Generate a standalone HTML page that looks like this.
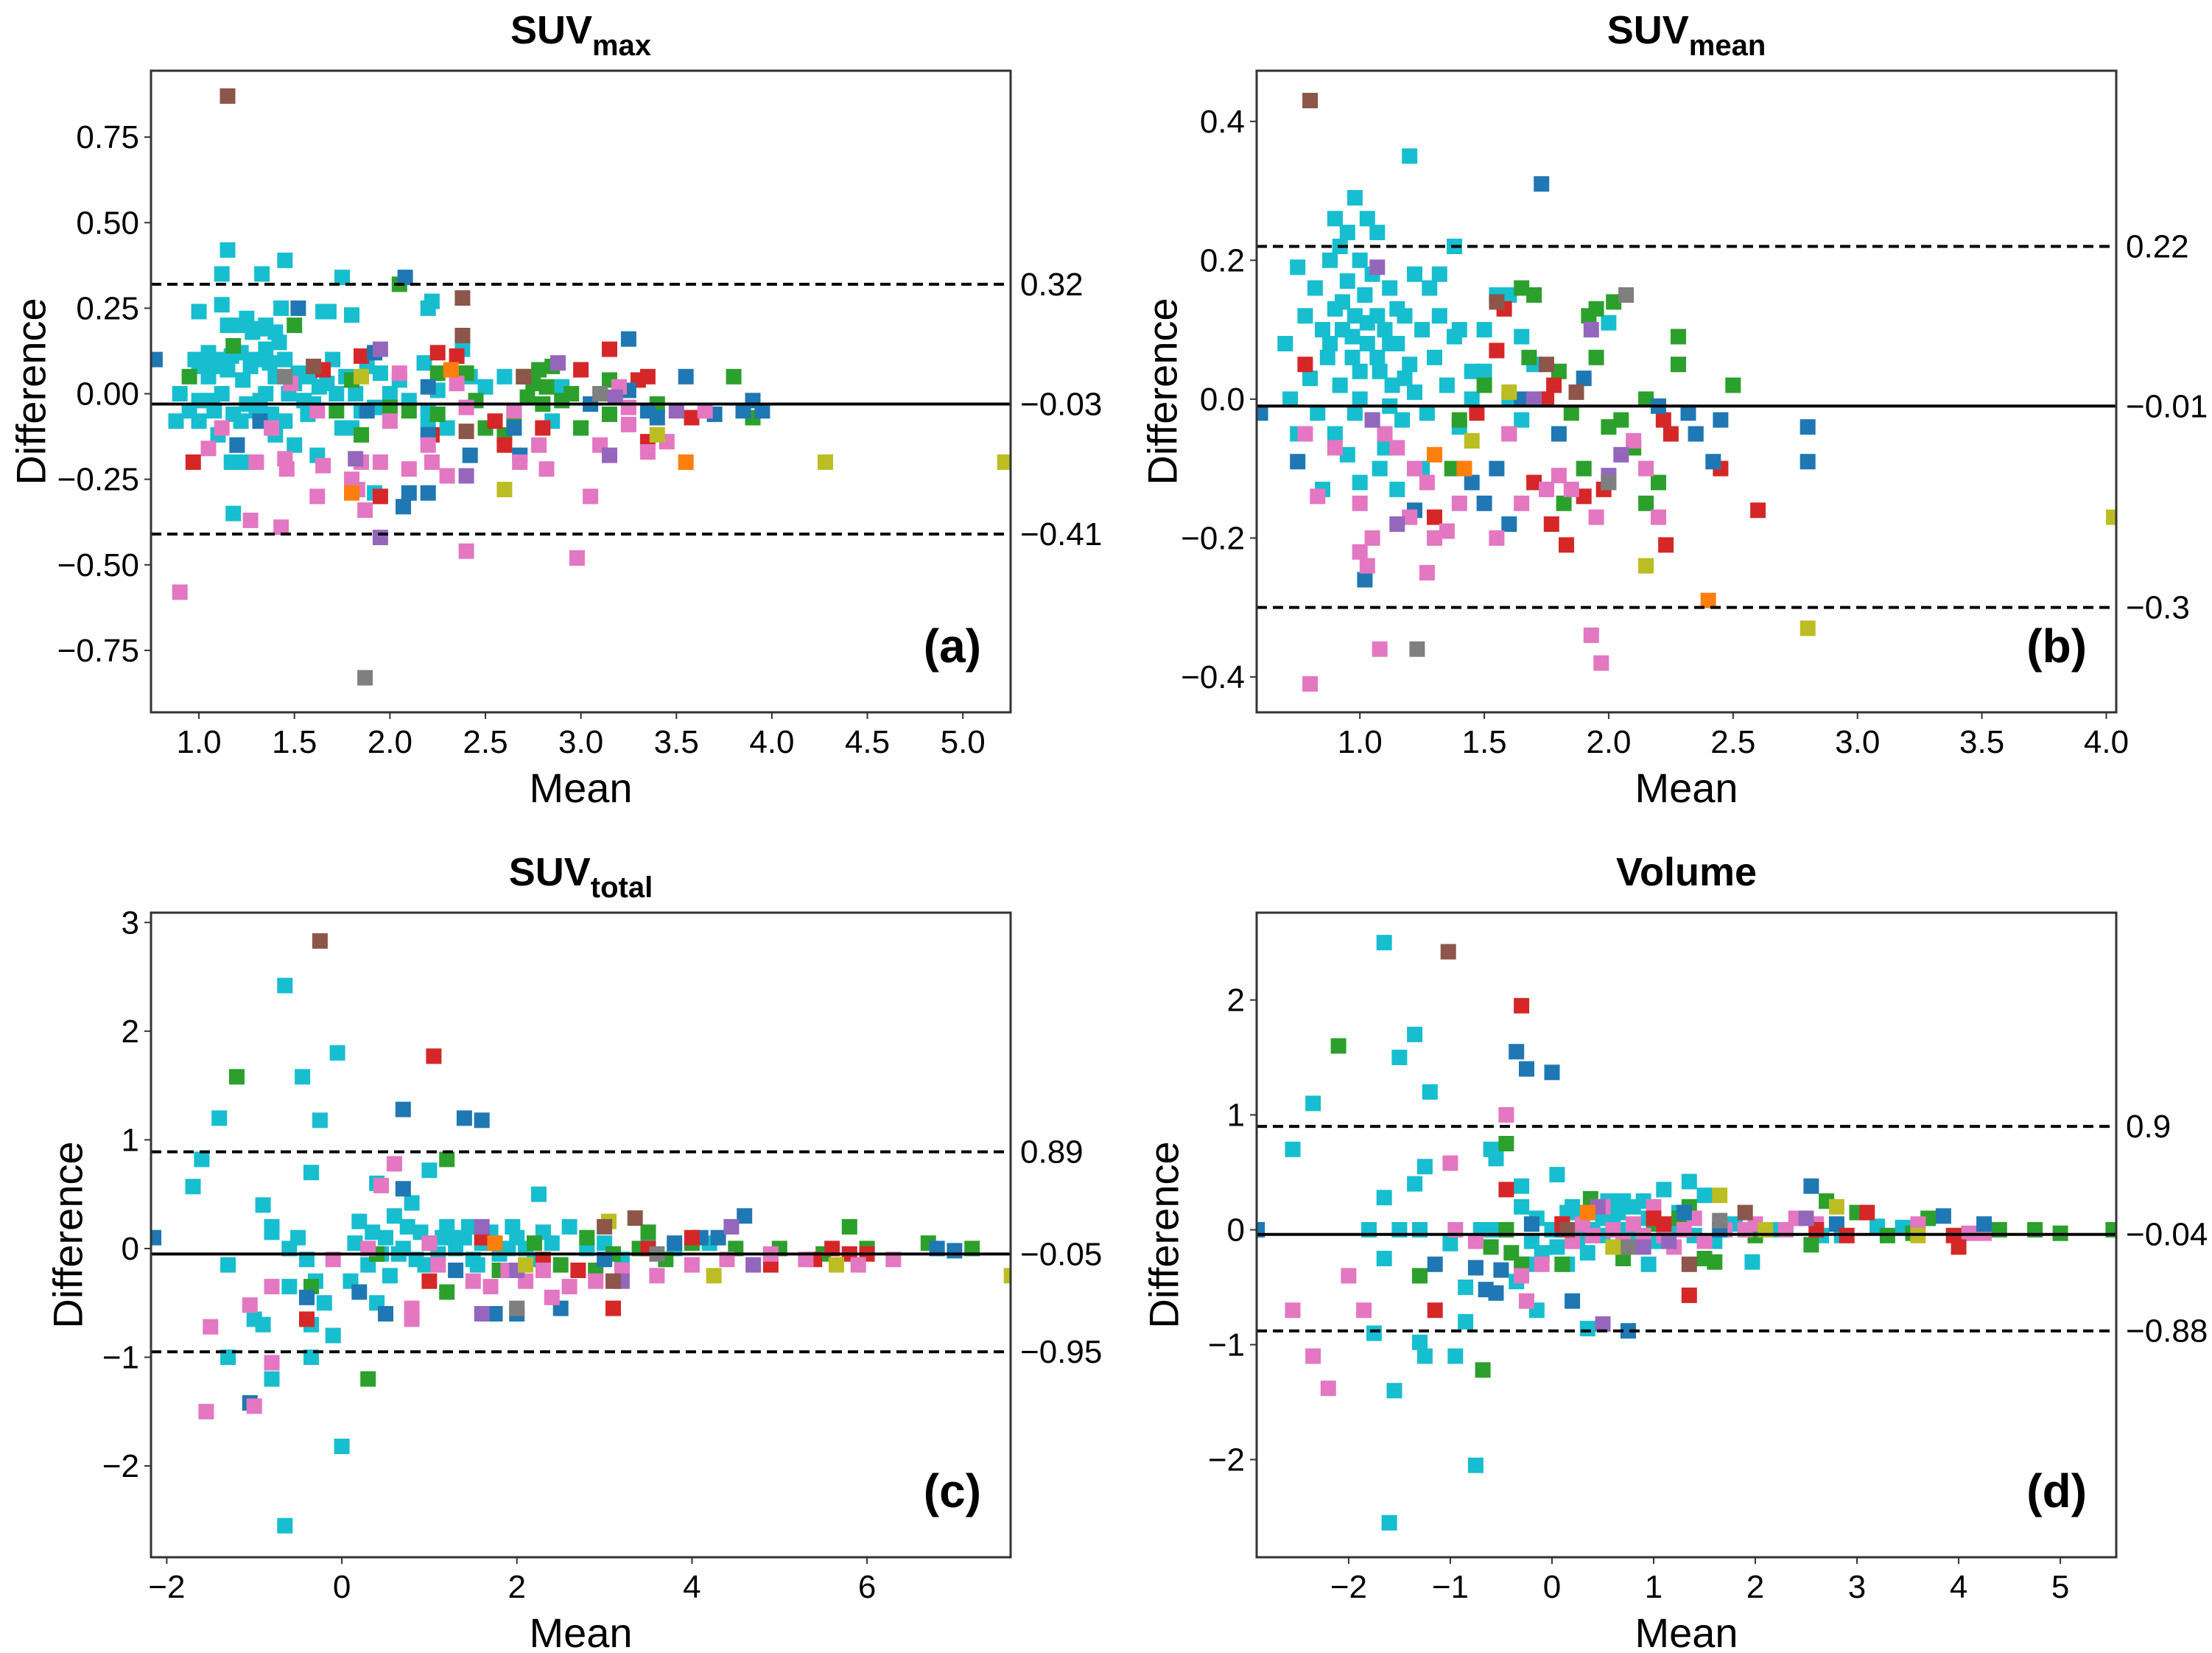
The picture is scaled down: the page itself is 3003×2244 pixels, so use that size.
<!DOCTYPE html>
<html><head><meta charset="utf-8"><title>Bland-Altman plots</title>
<style>
html,body{margin:0;padding:0;background:#fff;}
svg{display:block;font-family:"Liberation Sans",Arial,sans-serif;}
</style></head>
<body>
<svg id="fig" width="3003" height="2244" viewBox="0 0 3003 2244" xmlns="http://www.w3.org/2000/svg"></svg>
<script>
// ---------- data ----------
const colorMap = {b:'#1f77b4',o:'#ff7f0e',g:'#2ca02c',r:'#d62728',p:'#9467bd',n:'#8c564b',k:'#e377c2',y:'#7f7f7f',l:'#bcbd22',c:'#17becf'};

const ticksA = [1.0,1.5,2.0,2.5,3.0,3.5,4.0,4.5,5.0];
const yTicksA = [0.75,0.5,0.25,0,-0.25,-0.5,-0.75];
const yTickLabelsA = ['0.75','0.50','0.25','0.00','\u22120.25','\u22120.50','\u22120.75'];
const linesA = [0.32,-0.03,-0.41];
const lineLabelsA = ['0.32','\u22120.03','\u22120.41'];
const ptsA = {
 c:[[1.15,0.42],[1.45,0.39],[1.12,0.35],[1.33,0.35],[1.75,0.34],[1.65,0.24],[1.8,0.23],[1.0,0.24],[2.2,0.25],[2.22,0.27],[1.18,-0.35],[0.88,-0.08],[1.92,-0.29],
   [0.9,0.0],[0.95,-0.05],[1.0,0.08],[1.0,-0.02],[1.02,0.1],[1.05,0.12],[1.05,0.05],[1.08,-0.05],[1.1,0.1],[1.12,0.0],[1.12,0.26],[1.15,0.07],[1.18,-0.06],[1.2,0.2],[1.22,0.12],[1.23,0.04],[1.25,0.22],[1.25,-0.03],[1.28,0.18],[1.3,0.1],[1.3,-0.05],[1.33,0.19],[1.35,0.0],[1.35,0.13],[1.38,-0.06],[1.4,0.05],[1.42,0.15],[1.43,0.25],[1.45,0.1],[1.45,-0.08],[1.47,0.0],[1.5,0.03],[1.55,-0.02],[1.58,0.05],[1.6,-0.03],[1.63,0.02],[1.68,0.24],[1.7,0.1],[1.72,0.0],[1.75,-0.1],[1.82,0.0],[1.85,-0.05],[1.88,0.08],[1.92,-0.04],[1.95,0.06],[2.0,0.0],[2.05,0.04],[2.1,-0.02],[2.18,0.09],[2.2,-0.08],[2.25,0.01],[2.3,-0.1],[2.38,0.13],[2.42,0.05],[2.5,0.02],[2.6,0.05],[2.85,-0.08],[2.9,0.02],[1.2,-0.15],[1.17,-0.2],[1.25,-0.2],[1.5,-0.15],[1.62,-0.18],[2.2,-0.05],[1.0,-0.08],[1.1,-0.12],[1.4,-0.12],[1.8,-0.1],
   [1.07,0.08],[1.17,0.11],[1.27,0.08],[1.37,0.09],[1.4,0.18],[1.52,0.06],[1.32,-0.02],[1.22,-0.08],[1.07,-0.02],[1.57,-0.06],[1.67,0.03],[1.77,0.05],[1.15,0.2],[1.35,0.2],[0.98,0.1]],
 g:[[2.05,0.32],[0.95,0.05],[1.18,0.14],[1.5,0.2],[1.8,0.04],[1.85,-0.12],[2.0,-0.04],[2.1,-0.05],[2.25,0.06],[2.25,-0.06],[2.4,0.06],[2.45,-0.02],[2.5,-0.1],[2.6,-0.12],[2.7,0.05],[2.72,-0.01],[2.75,0.03],[2.78,0.07],[2.8,-0.03],[2.82,0.02],[2.85,0.08],[2.9,-0.02],[2.95,0.0],[3.0,-0.1],[3.15,-0.06],[3.15,0.04],[3.4,-0.03],[1.72,-0.05],[2.65,-0.06],[3.8,0.05],[3.9,-0.07]],
 r:[[3.15,0.13],[3.35,0.05],[3.58,-0.07],[0.97,-0.2],[1.65,0.07],[1.85,0.11],[2.25,0.12],[2.35,0.11],[2.55,-0.08],[2.6,-0.15],[2.8,-0.1],[3.0,0.07],[3.3,0.04],[3.35,-0.14],[1.95,-0.3],[2.22,-0.12]],
 b:[[2.08,0.34],[1.52,0.25],[3.25,0.16],[3.55,0.05],[3.9,-0.02],[3.95,-0.05],[0.77,0.1],[2.07,-0.33],[2.1,-0.29],[2.2,-0.29],[1.2,-0.15],[1.32,-0.08],[1.88,-0.05],[1.92,0.12],[2.2,0.02],[2.2,-0.12],[2.42,-0.18],[2.65,-0.1],[2.68,-0.18],[3.05,-0.03],[3.25,0.01],[3.35,-0.05],[3.4,-0.07],[3.7,-0.06],[3.85,-0.05]],
 k:[[0.9,-0.58],[3.05,-0.3],[2.98,-0.48],[2.4,-0.46],[1.43,-0.39],[1.27,-0.37],[1.05,-0.16],[1.87,-0.34],[1.62,-0.3],[1.12,-0.1],[1.3,-0.2],[1.38,-0.1],[1.45,-0.19],[1.46,-0.22],[1.48,0.03],[1.62,-0.05],[1.65,-0.21],[1.8,-0.25],[1.83,-0.28],[1.85,-0.2],[1.95,-0.2],[2.0,-0.08],[2.05,0.06],[2.1,-0.22],[2.2,-0.15],[2.22,-0.2],[2.3,-0.24],[2.35,0.03],[2.4,-0.04],[2.65,-0.05],[2.68,-0.2],[2.78,-0.15],[2.82,-0.22],[3.1,-0.15],[3.2,0.02],[3.25,-0.04],[3.25,-0.09],[3.35,-0.17],[3.45,-0.14],[3.65,-0.05]],
 p:[[1.95,-0.42],[1.82,-0.19],[1.95,0.13],[2.4,-0.24],[2.88,0.09],[3.15,-0.18],[3.18,-0.01],[3.5,-0.05]],
 n:[[1.15,0.87],[2.38,0.28],[2.38,0.17],[1.6,0.08],[2.4,-0.11],[2.7,0.05]],
 y:[[1.87,-0.83],[1.45,0.05],[3.1,0.0]],
 l:[[4.28,-0.2],[5.22,-0.2],[2.6,-0.28],[1.85,0.05],[3.4,-0.12]],
 o:[[3.55,-0.2],[2.32,0.07],[1.8,-0.29]]
};

const ticksB = [1.0,1.5,2.0,2.5,3.0,3.5,4.0];
const yTicksB = [0.4,0.2,0,-0.2,-0.4];
const yTickLabelsB = ['0.4','0.2','0.0','\u22120.2','\u22120.4'];
const linesB = [0.22,-0.01,-0.3];
const lineLabelsB = ['0.22','\u22120.01','\u22120.3'];
const ptsB = {
 c:[[1.2,0.35],[0.98,0.29],[0.9,0.26],[1.03,0.26],[1.07,0.24],[1.38,0.22],[0.75,0.19],[0.92,0.22],[1.32,0.18],
   [0.7,0.08],[0.72,0.0],[0.75,-0.05],[0.78,0.12],[0.8,0.03],[0.82,0.16],[0.83,-0.02],[0.85,0.1],[0.87,0.06],[0.88,0.2],[0.9,0.13],[0.9,-0.05],[0.92,0.02],[0.93,0.1],[0.95,0.17],[0.95,-0.08],[0.97,0.06],[0.98,0.12],[1.0,0.2],[1.0,0.0],[1.02,0.15],[1.03,0.08],[1.05,0.18],[1.05,-0.03],[1.07,0.12],[1.08,0.04],[1.1,0.1],[1.1,-0.07],[1.12,0.16],[1.13,0.02],[1.15,0.08],[1.17,-0.03],[1.18,0.12],[1.2,0.05],[1.22,0.18],[1.25,0.1],[1.27,-0.02],[1.3,0.06],[1.32,0.12],[1.35,0.02],[1.38,0.09],[1.4,-0.04],[1.45,0.04],[1.5,0.1],[1.55,0.15],[1.6,0.15],[1.6,0.0],[1.65,-0.03],[1.7,0.05],[1.0,-0.12],[1.08,-0.1],[0.95,0.24],[1.15,-0.13],[1.25,-0.1],[1.4,0.1],[1.28,0.16],[1.65,0.09],[2.0,0.11],[0.85,-0.13],
   [0.93,0.14],[0.97,0.09],[1.0,0.04],[1.03,0.11],[1.07,0.06],[1.12,0.08],[1.15,0.13],[1.18,0.03],[0.88,0.08],[0.98,-0.02],[1.12,-0.01],[1.22,0.01],[1.45,0.0],[1.5,0.04]],
 g:[[1.65,0.16],[1.95,0.13],[2.02,0.14],[1.92,0.12],[2.28,0.09],[2.28,0.05],[2.5,0.02],[2.35,-0.05],[2.15,-0.15],[1.37,-0.1],[1.4,-0.03],[1.5,0.02],[1.6,-0.05],[1.68,0.06],[1.75,0.0],[1.8,0.04],[1.85,-0.02],[1.9,-0.1],[1.95,0.06],[2.0,-0.04],[2.05,-0.03],[2.1,-0.07],[2.15,0.0],[2.2,-0.12],[1.82,-0.15],[1.7,0.15]],
 r:[[2.6,-0.16],[2.23,-0.21],[1.83,-0.21],[1.77,-0.18],[1.55,0.07],[1.58,0.13],[1.47,-0.02],[1.7,-0.12],[1.75,0.0],[1.78,0.02],[1.9,-0.14],[1.98,-0.13],[2.22,-0.03],[2.45,-0.1],[2.25,-0.05],[1.3,-0.17],[0.78,0.05]],
 b:[[1.73,0.31],[1.02,-0.26],[2.8,-0.04],[2.8,-0.09],[0.55,0.07],[0.6,-0.02],[0.75,-0.09],[1.45,-0.12],[1.5,-0.15],[1.55,-0.1],[1.6,-0.18],[1.65,0.0],[1.8,-0.05],[1.9,0.03],[2.2,-0.01],[2.32,-0.02],[2.35,-0.05],[2.45,-0.03],[2.42,-0.09],[1.22,-0.16]],
 k:[[0.8,-0.41],[1.97,-0.38],[1.93,-0.34],[1.08,-0.36],[1.0,-0.22],[1.03,-0.24],[0.83,-0.14],[1.27,-0.25],[0.78,-0.05],[0.9,-0.07],[1.0,-0.15],[1.1,-0.05],[1.15,-0.07],[1.2,-0.17],[1.22,-0.1],[1.27,-0.12],[1.3,-0.2],[1.35,-0.19],[1.4,-0.15],[1.55,-0.2],[1.65,-0.15],[1.75,-0.13],[1.8,-0.11],[1.85,-0.13],[1.95,-0.17],[2.0,-0.12],[2.1,-0.06],[2.15,-0.1],[1.6,-0.05],[1.05,-0.2],[2.2,-0.17]],
 p:[[1.05,-0.03],[1.7,0.0],[1.93,0.1],[2.05,-0.08],[2.0,-0.11],[1.15,-0.18],[1.07,0.19]],
 o:[[2.4,-0.29],[1.3,-0.08],[1.42,-0.1]],
 l:[[4.03,-0.17],[2.8,-0.33],[2.15,-0.24],[1.6,0.01],[1.45,-0.06]],
 n:[[0.8,0.43],[1.55,0.14],[1.75,0.05],[1.87,0.01]],
 y:[[1.23,-0.36],[2.07,0.15],[2.0,-0.12]]
};

const ticksC = [-2,0,2,4,6];
const yTicksC = [3,2,1,0,-1,-2];
const yTickLabelsC = ['3','2','1','0','\u22121','\u22122'];
const linesC = [0.89,-0.05,-0.95];
const lineLabelsC = ['0.89','\u22120.05','\u22120.95'];
const ptsC = {
 c:[[-0.65,2.42],[-0.05,1.8],[-0.45,1.58],[-1.4,1.2],[-0.25,1.18],[-1.6,0.82],[1.0,0.72],[-1.7,0.57],[0.4,0.6],[-0.65,-2.55],[0,-1.82],[-1.3,-1.0],[-0.35,-1.0],[-0.8,-1.2],
   [-0.9,0.4],[-1.0,-0.65],[-1.3,-0.15],[-0.8,0.2],[-0.6,0.0],[-0.5,0.1],[-0.4,-0.1],[-0.3,-0.3],[-0.2,-0.5],[-0.1,-0.8],[0.1,-0.3],[0.15,0.05],[0.2,0.25],[0.3,-0.15],[0.35,0.15],[0.45,-0.05],[0.5,0.1],[0.55,-0.25],[0.6,0.3],[0.7,0.0],[0.75,0.2],[0.85,-0.1],[0.9,0.15],[1.0,0.05],[1.1,-0.05],[1.2,0.2],[1.3,0.0],[1.4,0.1],[1.5,-0.1],[1.6,0.05],[1.7,0.15],[1.8,-0.05],[1.9,0.0],[2.0,0.1],[2.2,-0.1],[2.4,0.05],[2.6,0.2],[2.8,0.0],[3.0,0.05],[3.2,-0.1],[3.5,0.1],[3.8,0.0],[4.2,0.05],[-0.9,-0.7],[-0.35,-0.7],[-0.6,-0.35],[0.4,-0.5],[2.25,0.5],[-0.35,0.7],[0.8,0.42],[-0.8,0.15],
   [1.25,0.1],[1.45,0.2],[1.55,-0.15],[1.75,0.05],[1.95,0.2],[2.1,0.0],[2.3,0.15],[0.95,-0.15],[1.15,0.1],[0.65,-0.05]],
 g:[[-1.2,1.58],[1.2,0.82],[0.3,-1.2],[-0.35,-0.35],[0.4,-0.05],[1.2,-0.4],[1.8,-0.2],[2.2,0.05],[2.5,-0.15],[2.8,0.1],[3.1,-0.05],[3.4,0.0],[3.7,-0.1],[4.0,0.05],[4.5,0.0],[5.0,0.0],[5.5,-0.05],[6.0,0.0],[6.7,0.05],[2.9,-0.2],[3.5,0.15],[5.8,0.2],[7.2,0.0]],
 b:[[0.7,1.28],[1.4,1.2],[1.6,1.18],[-2.15,0.1],[-1.05,-1.42],[-0.4,-0.45],[0.2,-0.4],[0.5,-0.6],[0.7,0.55],[1.3,-0.2],[2.0,-0.6],[2.5,-0.55],[3.0,-0.1],[3.8,0.05],[4.3,0.1],[4.6,0.3],[7.0,-0.02],[1.75,-0.6],[4.1,0.1],[6.8,0.0]],
 r:[[1.05,1.77],[-0.4,-0.65],[1.0,-0.3],[2.3,-0.1],[3.1,-0.55],[3.5,0.0],[4.9,-0.15],[5.6,0.0],[5.8,-0.05],[1.6,0.1],[2.7,-0.2],[4.0,0.1],[5.4,-0.1],[6.0,-0.05]],
 k:[[0.6,0.78],[0.45,0.58],[-1.55,-1.5],[-1.0,-1.45],[-0.8,-1.05],[-1.5,-0.72],[-1.05,-0.52],[0.8,-0.65],[-0.1,-0.1],[0.3,0.0],[0.8,-0.55],[1.1,-0.15],[1.5,-0.3],[1.7,-0.35],[1.9,-0.2],[2.1,-0.3],[2.3,-0.2],[2.6,-0.35],[2.9,-0.3],[3.2,-0.2],[3.6,-0.25],[4.0,-0.15],[4.4,-0.1],[4.9,-0.05],[5.3,-0.1],[5.9,-0.15],[6.3,-0.1],[-0.8,-0.35],[2.4,-0.45],[1.0,0.05]],
 p:[[2.0,-0.2],[3.2,-0.3],[1.6,-0.6],[1.6,0.2],[4.45,0.2],[4.7,-0.15]],
 l:[[3.05,0.25],[4.25,-0.25],[5.65,-0.15],[7.65,-0.25],[2.1,-0.15]],
 n:[[-0.25,2.83],[3.35,0.28],[3.1,-0.3],[3.0,0.2]],
 y:[[2.0,-0.55],[3.6,-0.05]],
 o:[[1.75,0.05]]
};

const ticksD = [-2,-1,0,1,2,3,4,5];
const yTicksD = [2,1,0,-1,-2];
const yTickLabelsD = ['2','1','0','\u22121','\u22122'];
const linesD = [0.9,-0.04,-0.88];
const lineLabelsD = ['0.9','\u22120.04','\u22120.88'];
const ptsD = {
 c:[[-1.65,2.5],[-1.35,1.7],[-1.5,1.5],[-1.2,1.2],[-2.35,1.1],[-2.55,0.7],[-0.6,0.7],[-0.55,0.62],[-1.25,0.55],[-1.35,0.4],[0.05,0.48],[-0.3,0.38],[-1.65,0.28],[-1.6,-2.55],[-0.75,-2.05],[-1.55,-1.4],[-1.25,-1.1],[-0.95,-1.1],[-1.3,-0.98],[-0.85,-0.8],[-1.75,-0.9],[0.35,-0.86],[-0.15,-0.7],[-0.85,-0.5],[-1.65,-0.25],[-1.8,0],[-1.5,0],[-1.3,0],[-0.7,0],[-0.6,0],[-1.0,-0.12],
   [-0.2,-0.1],[-0.15,0.1],[-0.1,-0.2],[0.0,0.0],[0.05,-0.15],[0.1,0.05],[0.15,-0.3],[0.2,0.2],[0.25,-0.1],[0.3,0.1],[0.35,-0.2],[0.4,0.0],[0.45,0.15],[0.5,-0.05],[0.55,0.25],[0.6,0.1],[0.65,-0.15],[0.7,0.25],[0.75,0.0],[0.8,0.2],[0.85,-0.1],[0.9,0.25],[0.95,-0.3],[1.0,0.1],[1.1,0.35],[1.2,0.0],[1.35,0.42],[1.5,0.3],[1.6,-0.1],[1.8,0.05],[1.97,-0.28],[2.2,0.0],[2.65,-0.05],[2.85,-0.05],[3.2,0.03],[3.45,0.02],[-0.3,0.2],[-0.25,-0.3],[-0.35,-0.45],
   [0.15,0.15],[0.3,-0.05],[0.5,0.1],[0.65,0.15],[0.8,-0.05],[0.95,0.1],[1.05,-0.1],[1.25,0.15],[1.4,-0.05]],
 g:[[-2.1,1.6],[-0.45,0.75],[-0.68,-1.22],[-1.3,-0.4],[-0.6,-0.15],[-0.4,-0.2],[-0.3,-0.3],[0.1,-0.3],[0.38,0.27],[0.7,-0.25],[1.0,0.05],[1.35,0.2],[1.5,-0.25],[1.6,-0.28],[2.0,-0.05],[2.55,-0.13],[2.7,0.25],[3.0,0.15],[3.3,-0.05],[3.7,0.1],[4.4,0.0],[4.75,0.0],[5.0,-0.03],[5.52,0.0],[3.55,-0.03],[1.25,0.1],[-0.45,0.0]],
 k:[[-0.45,1.0],[-1.0,0.58],[-2.2,-1.38],[-2.35,-1.1],[-2.55,-0.7],[-1.85,-0.7],[-0.25,-0.62],[-2.0,-0.4],[-0.95,0.0],[-0.75,-0.1],[-0.3,-0.4],[-0.1,-0.3],[0.1,0.05],[0.2,-0.1],[0.3,0.05],[0.4,-0.05],[0.5,0.2],[0.6,0.0],[0.7,-0.1],[0.8,0.05],[0.9,-0.05],[1.0,0.2],[1.1,-0.05],[1.2,-0.15],[1.4,0.1],[1.5,-0.1],[1.7,0.0],[1.9,0.0],[2.0,0.05],[2.3,0.0],[2.4,0.1],[2.6,0.05],[3.6,0.05],[4.1,-0.03],[4.25,-0.03],[1.3,0.0]],
 b:[[-0.35,1.55],[-0.25,1.4],[0.0,1.37],[-2.9,0],[0.75,-0.88],[0.2,-0.62],[-1.15,-0.3],[-0.75,-0.33],[-0.5,-0.35],[-0.65,-0.52],[-0.55,-0.55],[0.1,0.0],[1.3,0.15],[1.65,0.0],[2.55,0.38],[2.8,0.05],[3.85,0.12],[4.25,0.05],[-0.2,0.05]],
 r:[[-0.3,1.95],[-0.45,0.35],[-1.15,-0.7],[1.35,-0.57],[0.1,0.05],[1.0,0.1],[1.1,0.05],[2.6,0.0],[2.9,-0.05],[3.1,0.15],[3.95,-0.05],[4.0,-0.15]],
 p:[[0.5,-0.82],[0.45,0.2],[0.9,-0.15],[1.15,-0.1],[2.5,0.1]],
 y:[[0.75,-0.15],[1.65,0.08]],
 n:[[-1.02,2.42],[1.35,-0.3],[1.9,0.15],[0.15,0.0]],
 l:[[0.6,-0.15],[1.65,0.3],[2.1,0.0],[2.8,0.2],[3.6,-0.05]],
 o:[[0.35,0.15]]
};

// ---------- layout (not data) ----------
const panels = [
 {id:'a',L:205,R:1372,T:96,B:967,x0:0.749,x1:5.25,y0:-0.931,y1:0.944,xt:ticksA,xtl:ticksA.map(v=>v.toFixed(1)),yt:yTicksA,ytl:yTickLabelsA,lines:linesA,ll:lineLabelsA,pts:ptsA,title:['SUV','max'],tag:'(a)',ylabX:42},
 {id:'b',L:1706,R:2873,T:96,B:967,x0:0.585,x1:4.04,y0:-0.451,y1:0.473,xt:ticksB,xtl:ticksB.map(v=>v.toFixed(1)),yt:yTicksB,ytl:yTickLabelsB,lines:linesB,ll:lineLabelsB,pts:ptsB,title:['SUV','mean'],tag:'(b)',ylabX:1578},
 {id:'c',L:205,R:1372,T:1239,B:2114,x0:-2.18,x1:7.64,y0:-2.84,y1:3.09,xt:ticksC,xtl:ticksC.map(v=>v<0?'\u2212'+(-v):String(v)),yt:yTicksC,ytl:yTickLabelsC,lines:linesC,ll:lineLabelsC,pts:ptsC,title:['SUV','total'],tag:'(c)',ylabX:92},
 {id:'d',L:1706,R:2873,T:1239,B:2114,x0:-2.905,x1:5.55,y0:-2.85,y1:2.76,xt:ticksD,xtl:ticksD.map(v=>v<0?'\u2212'+(-v):String(v)),yt:yTicksD,ytl:yTickLabelsD,lines:linesD,ll:lineLabelsD,pts:ptsD,title:['Volume',''],tag:'(d)',ylabX:1580}
];

const NS='http://www.w3.org/2000/svg';
const svg=document.getElementById('fig');
function mk(tag,attrs,parent){const e=document.createElementNS(NS,tag);for(const k in attrs)e.setAttribute(k,attrs[k]);(parent||svg).appendChild(e);return e;}

const defs=mk('defs',{});
panels.forEach(P=>{
 const sx=v=>P.L+(v-P.x0)/(P.x1-P.x0)*(P.R-P.L);
 const sy=v=>P.B-(v-P.y0)/(P.y1-P.y0)*(P.B-P.T);
 const cp=mk('clipPath',{id:'clip-'+P.id},defs);
 mk('rect',{x:P.L,y:P.T,width:P.R-P.L,height:P.B-P.T},cp);

 const g=mk('g',{});
 
 

 const pg=mk('g',{'clip-path':'url(#clip-'+P.id+')'},g);
 
 
 const S=21;
 Object.keys(P.pts).forEach(col=>{
  P.pts[col].forEach(pt=>{
   const r=mk('rect',{x:(sx(pt[0])-S/2).toFixed(1),y:(sy(pt[1])-S/2).toFixed(1),width:S,height:S,fill:colorMap[col]},pg);
   
   
  });
 });

 P.lines.forEach((v,i)=>{
  const y=sy(v);
  const ln=mk('line',{x1:P.L,x2:P.R,y1:y,y2:y,stroke:'#000','stroke-width':4,'stroke-dasharray':i===1?'none':'14 8'},g);
  
  
  const t=mk('text',{x:P.R+13,y:y+15,'font-size':44,fill:'#000'},g);
  t.textContent=P.ll[i];
  
  
 });

 const fr=mk('rect',{x:P.L,y:P.T,width:P.R-P.L,height:P.B-P.T,fill:'none',stroke:'#333','stroke-width':3},g);
 
 

 P.xt.forEach((v,i)=>{
  const x=sx(v);
  const tk=mk('line',{x1:x,x2:x,y1:P.B,y2:P.B+9,stroke:'#333','stroke-width':2},g);
  
  
  const t=mk('text',{x:x,y:P.B+55,'font-size':44,'text-anchor':'middle',fill:'#000'},g);
  t.textContent=P.xtl[i];
  
  
 });
 P.yt.forEach((v,i)=>{
  const y=sy(v);
  const tk=mk('line',{x1:P.L-9,x2:P.L,y1:y,y2:y,stroke:'#333','stroke-width':2},g);
  
  
  const t=mk('text',{x:P.L-16,y:y+15,'font-size':44,'text-anchor':'end',fill:'#000'},g);
  t.textContent=P.ytl[i];
  
  
 });
 const xl=mk('text',{x:(P.L+P.R)/2,y:P.B+122,'font-size':56,'text-anchor':'middle',fill:'#000'},g);
 xl.textContent='Mean';
 
 
 const cy=(P.T+P.B)/2;
 const yl=mk('text',{x:P.ylabX,y:cy,'font-size':56,'text-anchor':'middle','dominant-baseline':'central',transform:'rotate(-90 '+P.ylabX+' '+cy+')',fill:'#000'},g);
 yl.textContent='Difference';
 
 
 const tt=mk('text',{x:(P.L+P.R)/2,y:P.T-37,'font-size':54,'font-weight':'bold','text-anchor':'middle',fill:'#000'},g);
 
 
 tt.appendChild(document.createTextNode(P.title[0]));
 if(P.title[1]){const ts=mk('tspan',{'font-size':40,dy:16},tt);ts.textContent=P.title[1];}
 const tg=mk('text',{x:P.R-40,y:P.B-68,'font-size':64,'font-weight':'bold','text-anchor':'end',fill:'#000'},g);
 tg.textContent=P.tag;
 
 
});
</script>
</body></html>
